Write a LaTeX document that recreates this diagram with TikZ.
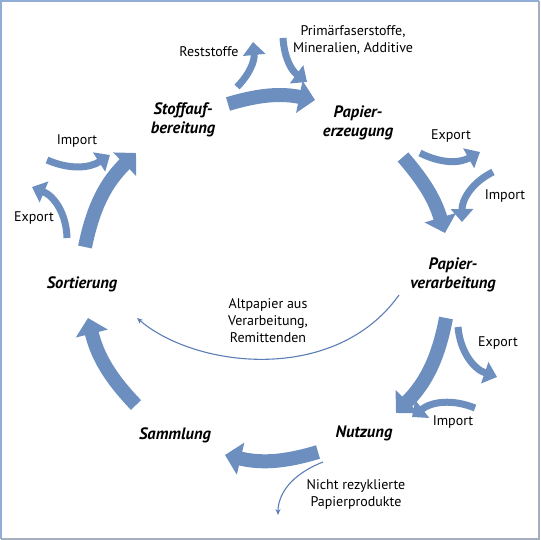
\documentclass[tikz,border=0pt]{standalone}
\usepackage{fontspec}
\setmainfont{PT Sans}
\usetikzlibrary{arrows.meta}
\definecolor{arrowblue}{RGB}{108,143,192}
\definecolor{thinblue}{RGB}{92,125,182}
\definecolor{framecol}{RGB}{145,172,214}
\definecolor{framegrey}{RGB}{165,174,190}
\tikzset{
  stage/.style={font=\fontsize{16.5}{19.5}\selectfont\bfseries\itshape, align=center, inner sep=0pt},
  lbl/.style={font=\fontsize{14}{17}\selectfont, align=center, inner sep=0pt},
  mainarrow/.style={draw=arrowblue, line width=14pt, -{Triangle[length=16pt,width=32pt]}},
  sidearrow/.style={draw=arrowblue, line width=7pt, -{Triangle[length=13pt,width=22pt]}},
  thinarrow/.style={draw=thinblue, line width=1.1pt, -{Stealth[length=6pt,width=5pt]}}
}
\begin{document}
\begin{tikzpicture}[x=1pt,y=1pt]
\useasboundingbox (0,0) rectangle (540,540);
\fill[white] (0,0) rectangle (540,540);
\draw[framegrey, line width=1.5pt] (1,1) -- (539,1) -- (539,539);
\draw[framecol, line width=1.5pt] (1,1) -- (1,539) -- (539,539);

% stage labels
\node[stage] (stoff) at (183,420) {Stoffauf-\\bereitung};
\node[stage] (erz) at (358,417) {Papier-\\erzeugung};
\node[stage] (verarb) at (453,265) {Papier-\\verarbeitung};
\node[stage] (nutz) at (364,107) {Nutzung};
\node[stage] (samm) at (175,105) {Sammlung};
\node[stage] (sort) at (82,256) {Sortierung};

% small labels
\node[lbl] (rest) at (209,488) {Reststoffe};
\node[lbl] (prim) at (353,500) {Primärfaserstoffe,\\Mineralien, Additive};
\node[lbl] (exur) at (451,404) {Export};
\node[lbl] (imur) at (505,344) {Import};
\node[lbl] (exlr) at (498,197) {Export};
\node[lbl] (imlr) at (453,118) {Import};
\node[lbl] (nicht) at (356,46) {Nicht rezyklierte\\Papierprodukte};
\node[lbl] (alt) at (268,219.5) {Altpapier aus\\Verarbeitung,\\Remittenden};
\node[lbl] (iml) at (77,399) {Import};
\node[lbl] (exl) at (34,322) {Export};

% arrow end points
\coordinate (m1s) at (228,436); \coordinate (m1e) at (315,440);
\coordinate (m2s) at (403,383); \coordinate (m2e) at (445,307);
\coordinate (m3s) at (446,222); \coordinate (m3e) at (396,127);
\coordinate (m4s) at (318,88);  \coordinate (m4e) at (225,85);
\coordinate (m5s) at (136,135); \coordinate (m5e) at (88,222);
\coordinate (m6s) at (85,293);  \coordinate (m6e) at (136,387);

\coordinate (rs) at (237,453); \coordinate (re) at (253,498);
\coordinate (ps) at (283,502); \coordinate (pe) at (307,458);
\coordinate (e1s) at (420,387); \coordinate (e1e) at (480,388);
\coordinate (i1s) at (493,368); \coordinate (i1e) at (462,318);
\coordinate (e2s) at (458,213); \coordinate (e2e) at (497,163);
\coordinate (i2s) at (475,132); \coordinate (i2e) at (412,123);
\coordinate (i3s) at (47,380);  \coordinate (i3e) at (110,385);
\coordinate (e3s) at (67,302);  \coordinate (e3e) at (32,353);

\coordinate (as) at (399,245); \coordinate (ae) at (137,222);
\coordinate (ns) at (323,78);  \coordinate (ne) at (278,25);

% main cycle
\draw[mainarrow] (m1s) to[bend left=14] (m1e);
\draw[mainarrow] (m2s) to[bend left=12] (m2e);
\draw[mainarrow] (m3s) to[bend left=17] (m3e);
\draw[mainarrow] (m4s) to[bend left=15] (m4e);
\draw[mainarrow] (m5s) to[bend left=15] (m5e);
\draw[mainarrow] (m6s) to[bend left=17] (m6e);

% side flows
\draw[sidearrow] (rs) to[bend right=25] (re);
\draw[sidearrow] (ps) to[bend right=25] (pe);
\draw[sidearrow] (e1s) to[bend right=28] (e1e);
\draw[sidearrow] (i1s) to[bend right=32] (i1e);
\draw[sidearrow] (e2s) to[bend right=33] (e2e);
\draw[sidearrow] (i2s) to[bend right=30] (i2e);
\draw[sidearrow] (i3s) to[bend right=28] (i3e);
\draw[sidearrow] (e3s) to[bend right=33] (e3e);

% thin arrows
\draw[thinarrow] (as) .. controls (335,155) and (195,172) .. (ae);
\draw[thinarrow] (ns) .. controls (290,65) and (278,45) .. (ne);
\end{tikzpicture}
\end{document}
